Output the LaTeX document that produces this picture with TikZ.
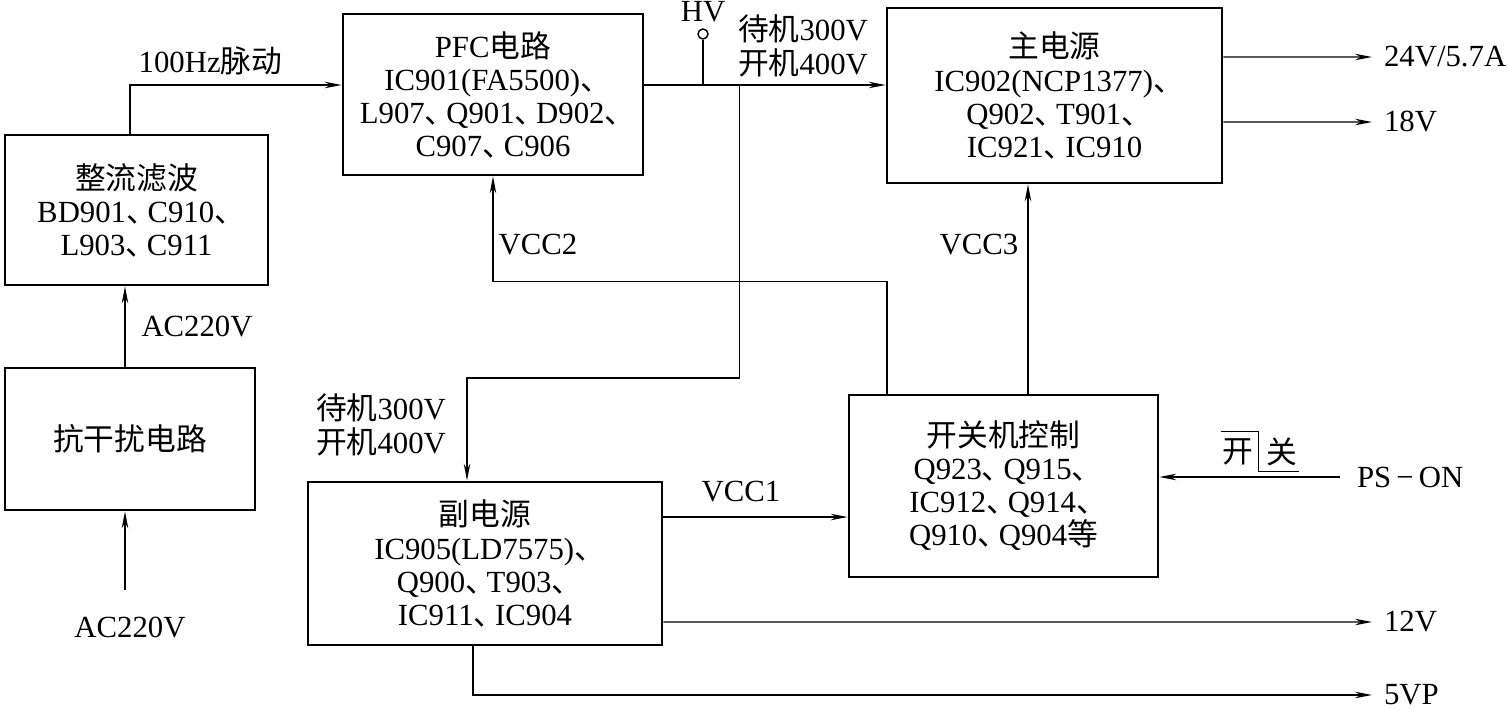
\documentclass[tikz,border=0pt]{standalone}
\usepackage{fontspec}
\usepackage{tikz}
\usetikzlibrary{arrows.meta}
\setmainfont{Liberation Serif}
\newfontfamily\cjk{Noto Sans CJK SC}
\newcommand{\zh}[1]{{\cjk #1}}
\newcommand{\dun}{{\cjk 、}\kern-0.3em}
\tikzset{
    block-box/.style = {draw=black, line width=1.6pt, rectangle, align=center, inner sep=0pt, font=\fontsize{17.5}{18.8}\selectfont},
    sig-label/.style = {inner sep=1pt, font=\fontsize{17.5}{19.5}\selectfont},
    sig-arrow/.style = {line width=0.8pt, -{Stealth[length=3.4mm,width=1.3mm]}},
    sig-line/.style = {line width=0.8pt},
}

\begin{document}
\begin{tikzpicture}[x=0.02cm, y=-0.02cm]
\useasboundingbox (0,0) rectangle (1508,710);
\node [block-box, minimum width=5.26cm, minimum height=3.0cm] (lvbo) at (136.5,210) {\zh{整流滤波}\\BD901\dun C910\dun\\L903\dun C911};
\node [block-box, minimum width=5.0cm, minimum height=2.84cm] (kgr) at (130,439) {\zh{抗干扰电路}};
\node [block-box, minimum width=6.0cm, minimum height=3.22cm] (pfc) at (493,94.5) {PFC\zh{电路}\\IC901(FA5500)\dun\\L907\dun Q901\dun D902\dun\\C907\dun C906};
\node [block-box, minimum width=6.7cm, minimum height=3.5cm] (zhu) at (1054.5,95.5) {\zh{主电源}\\IC902(NCP1377)\dun\\Q902\dun T901\dun\\IC921\dun IC910};
\node [block-box, minimum width=6.18cm, minimum height=3.64cm] (ctrl) at (1003.5,486) {\zh{开关机控制}\\Q923\dun Q915\dun\\IC912\dun Q914\dun\\Q910\dun Q904\zh{等}};
\node [block-box, minimum width=7.08cm, minimum height=3.26cm] (fu) at (485,563.5) {\zh{副电源}\\IC905(LD7575)\dun\\Q900\dun T903\dun\\IC911\dun IC904};

% input side
\node [sig-label] (acin) at (130,628) {AC220V};
\coordinate (acend) at (125,590);
\draw [sig-arrow] (acend) -- (acend |- kgr.south);
\draw [sig-arrow] (kgr.north -| acend) -- (lvbo.south -| acend) node [sig-label, midway, right=8pt] {AC220V};
\draw [sig-arrow] ([xshift=-0.13cm]lvbo.north) |- ([yshift=0.19cm]pfc.west) node [sig-label, pos=0.69, above=4pt] {100Hz\zh{脉动}};

% PFC output bus
\coordinate (bus) at ([yshift=0.19cm]pfc.east);
\draw [sig-arrow] (bus) -- (bus -| zhu.west);
\node [draw, circle, line width=0.8pt, inner sep=0pt, minimum size=0.2cm] (hv) at (703,34) {};
\node [sig-label] (hvtext) at (703,12) {HV};
\draw [sig-line] (hv) -- (hv |- bus);
\node [sig-label, align=left, anchor=west] (bustext) at (736,46) {\zh{待机}300V\\\zh{开机}400V};
\coordinate (tap) at ([xshift=1.9cm]bus);
\draw [sig-arrow] (tap) -- (tap |- 0,378) -| ([xshift=-0.36cm]fu.north);
\node [sig-label, align=left, anchor=west] (futext) at (314,425) {\zh{待机}300V\\\zh{开机}400V};

% supply rails from the control block
\draw [sig-arrow] ([xshift=-2.33cm]ctrl.north) -- ++(0,-112) -| (pfc.south);
\node [sig-label] (vcc2) at (538,245) {VCC2};
\draw [sig-arrow] ([xshift=0.49cm]ctrl.north) -- ([xshift=0.49cm]ctrl.north |- zhu.south);
\node [sig-label] (vcc3) at (979,245) {VCC3};
\draw [sig-arrow] ([yshift=0.93cm]fu.east) -- ([yshift=0.93cm]fu.east -| ctrl.west);
\node [sig-label] (vcc1) at (741,492) {VCC1};

% PS-ON input
\node [sig-label, anchor=west] (pson) at (1340,477) {\hspace{0.3cm}PS\,−\,ON};
\draw [sig-arrow] (pson.west) -- (pson.west -| ctrl.east);
\node [sig-label] (kai) at (1238,452) {\zh{开}};
\node [sig-label] (guan) at (1282,452) {\zh{关}};
\draw [sig-line] ([yshift=3pt]kai.north west) -- ++(38,0) |- ([yshift=-2pt]guan.south east);

% outputs
\node [sig-label, anchor=west] (o24) at (1372,57) {\hspace{0.2cm}24V/5.7A};
\draw [sig-arrow] ([yshift=0.77cm]zhu.east) -- (o24.west);
\node [sig-label, anchor=west] (o18) at (1372,122) {\hspace{0.2cm}18V};
\draw [sig-arrow] ([yshift=-0.53cm]zhu.east) -- (o18.west);
\node [sig-label, anchor=west] (o12) at (1372,622) {\hspace{0.2cm}12V};
\draw [sig-arrow] ([yshift=-1.17cm]fu.east) -- (o12.west);
\node [sig-label, anchor=west] (o5) at (1372,695) {\hspace{0.2cm}5VP};
\draw [sig-arrow] ([xshift=-0.24cm]fu.south) |- (o5.west);
\end{tikzpicture}
\end{document}
